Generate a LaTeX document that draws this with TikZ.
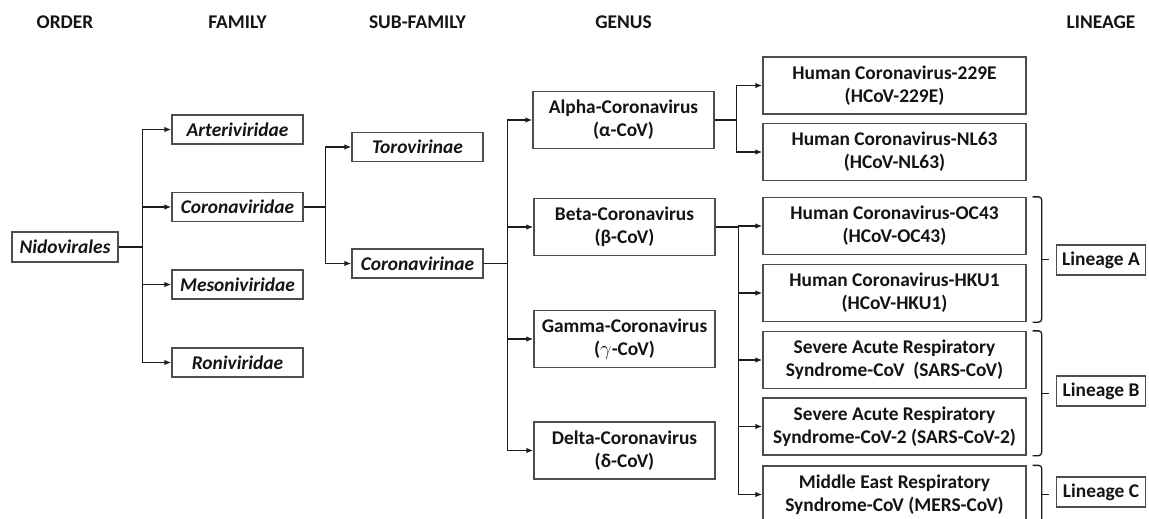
\documentclass[tikz,border=0pt]{standalone}
\usepackage{fontspec}
\setmainfont{Carlito}
\usetikzlibrary{arrows.meta,calc}
\definecolor{taxLine}{HTML}{1C1C1C}
\definecolor{taxBox}{HTML}{4D4D4D}
\definecolor{taxText}{HTML}{141414}
\newcommand{\taxfont}{\fontsize{19.4}{23.3}\selectfont\bfseries}

\begin{document}
\begin{tikzpicture}[x=1pt,y=-1pt, every node/.style={font=\taxfont, text=taxText},
    box/.style={draw=taxBox, line width=1.3pt, fill=white, inner sep=0pt, align=center, minimum height=29},
    famname/.style={box, minimum width=131, font=\taxfont\itshape},
    genbox/.style={box, minimum width=181, minimum height=57},
    spbox/.style={box, minimum width=263, minimum height=57},
    linbox/.style={box, minimum width=89, minimum height=30},
    arr/.style={draw=taxLine, line width=1.4pt, -{Latex[length=7pt,width=5.5pt]}},
    bracket/.style={draw=taxLine, line width=1.3pt, rounded corners=3pt}]
  \useasboundingbox (0,0) rectangle (1149,519);
  % column titles
  \node (tOrder) at (65,22) {ORDER};
  \node (tFamily) at (237.5,22) {FAMILY};
  \node (tSub) at (417.5,22) {SUB-FAMILY};
  \node (tGenus) at (623.5,22) {GENUS};
  \node (tLineage) at (1101,22) {LINEAGE};
  % order and families
  \node[box, minimum width=106, minimum height=30, font=\taxfont\itshape] (nido) at (65,247) {Nidovirales};
  \node[famname] (arte) at (237.5,129.5) {Arteriviridae};
  \node[famname] (coro) at (237.5,207) {Coronaviridae};
  \node[famname] (meso) at (237.5,284.5) {Mesoniviridae};
  \node[famname] (roni) at (237.5,362.5) {Roniviridae};
  % sub-families
  \node[famname] (toro) at (417.5,147) {Torovirinae};
  \node[famname] (covi) at (417.5,263.5) {Coronavirinae};
  % genera
  \node[genbox] (alpha) at (623.5,120) {Alpha-Coronavirus\\(α-CoV)};
  \node[genbox] (beta) at (624.5,227) {Beta-Coronavirus\\(β-CoV)};
  \node[genbox] (gamma) at (624.5,339) {Gamma-Coronavirus\\($\gamma$-CoV)};
  \node[genbox] (delta) at (624.5,450.5) {Delta-Coronavirus\\(δ-CoV)};
  % species
  \node[spbox] (h229) at (894.5,85.5) {Human Coronavirus-229E\\(HCoV-229E)};
  \node[spbox] (nl63) at (894.5,152) {Human Coronavirus-NL63\\(HCoV-NL63)};
  \node[spbox] (oc43) at (894.5,226) {Human Coronavirus-OC43\\(HCoV-OC43)};
  \node[spbox] (hku1) at (894.5,293) {Human Coronavirus-HKU1\\(HCoV-HKU1)};
  \node[spbox] (sars) at (894.5,360) {Severe Acute Respiratory\\Syndrome-CoV~ (SARS-CoV)};
  \node[spbox] (sars2) at (894.5,426.5) {Severe Acute Respiratory\\Syndrome-CoV-2 (SARS-CoV-2)};
  \node[spbox] (mers) at (894.5,494.5) {Middle East Respiratory\\Syndrome-CoV (MERS-CoV)};
  % lineages
  \node[linbox] (linA) at (1101,260) {Lineage A};
  \node[linbox] (linB) at (1101,391) {Lineage B};
  \node[linbox] (linC) at (1101,492) {Lineage C};

  % tree connectors
  \foreach \n in {arte,coro,meso,roni}
    \draw[arr] (nido.east) -- ++(24,0) |- (\n.west);
  \foreach \n in {toro,covi}
    \draw[arr] (coro.east) -- ++(22,0) |- (\n.west);
  \foreach \n in {alpha,beta,gamma,delta}
    \draw[arr] (covi.east) -- ++(24,0) |- (\n.west);
  \foreach \n in {h229,nl63}
    \draw[arr] (alpha.east) -- ++(22,0) |- (\n.west);
  \foreach \n in {oc43,hku1,sars,sars2,mers}
    \draw[arr] (beta.east) -- ++(23,0) |- (\n.west);

  % lineage brackets
  \foreach \a/\b in {oc43/hku1,sars/sars2,mers/mers} {
    \draw[bracket] ([xshift=6pt]\a.north east) -| ([xshift=15pt]\b.south east) -- ([xshift=6pt]\b.south east);
    \draw[draw=taxLine, line width=1.3pt] ($([xshift=15pt]\a.north east)!0.5!([xshift=15pt]\b.south east)$) -- ++(7,0);
  }
\end{tikzpicture}
\end{document}
